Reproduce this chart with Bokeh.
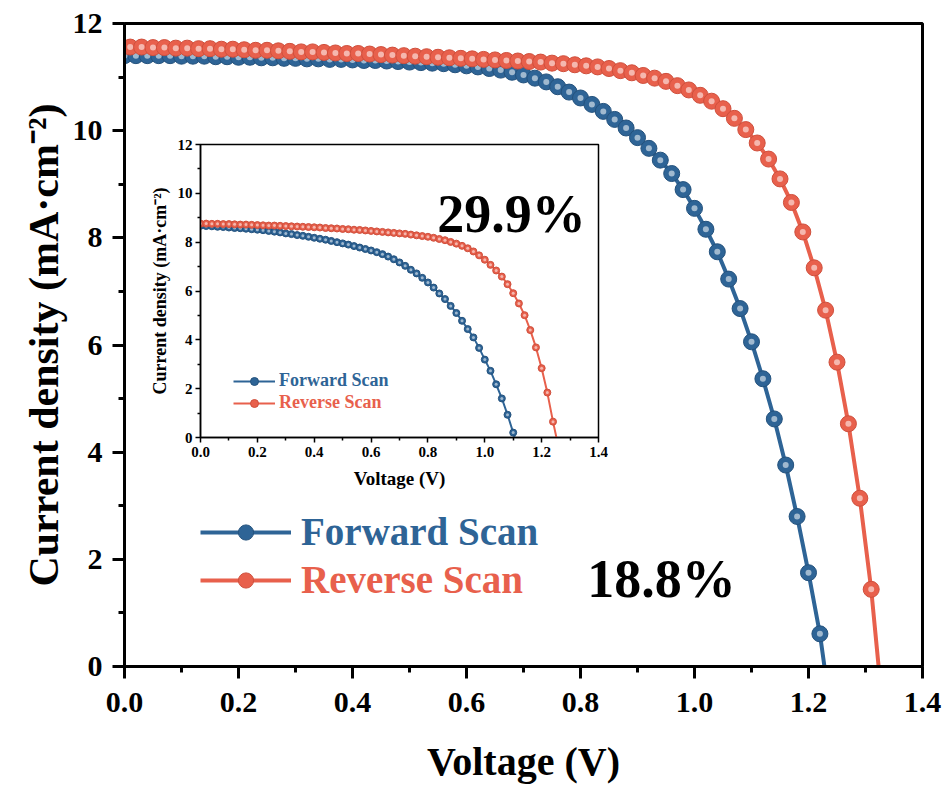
from bokeh.plotting import figure
from bokeh.models import Range1d, FixedTicker, PrintfTickFormatter, Legend, LegendItem, Label
from bokeh.embed import file_html
from bokeh.resources import INLINE

# ---------------- data ----------------
x_ticks = [0.0, 0.2, 0.4, 0.6, 0.8, 1.0, 1.2, 1.4]
x_minor = [0.1, 0.3, 0.5, 0.7, 0.9, 1.1, 1.3]
y_ticks = [0, 2, 4, 6, 8, 10, 12]
y_minor = [1, 3, 5, 7, 9, 11]

# main panel, forward scan
fwd_v = [0.00, 0.02, 0.04, 0.06, 0.08, 0.10, 0.12, 0.14, 0.16, 0.18,
         0.20, 0.22, 0.24, 0.26, 0.28, 0.30, 0.32, 0.34, 0.36, 0.38,
         0.40, 0.42, 0.44, 0.46, 0.48, 0.50, 0.52, 0.54, 0.56, 0.58,
         0.60, 0.62, 0.64, 0.66, 0.68, 0.70, 0.72, 0.74, 0.76, 0.78,
         0.80, 0.82, 0.84, 0.86, 0.88, 0.90, 0.92, 0.94, 0.96, 0.98,
         1.00, 1.02, 1.04, 1.06, 1.08, 1.10, 1.12, 1.14, 1.16, 1.18,
         1.20, 1.22]
fwd_j = [11.40, 11.40, 11.40, 11.40, 11.40, 11.39, 11.39, 11.39, 11.38, 11.38,
         11.37, 11.37, 11.36, 11.36, 11.35, 11.35, 11.34, 11.34, 11.33, 11.33,
         11.32, 11.31, 11.31, 11.30, 11.29, 11.28, 11.27, 11.26, 11.25, 11.23,
         11.21, 11.19, 11.16, 11.13, 11.09, 11.04, 10.98, 10.91, 10.82, 10.72,
         10.61, 10.49, 10.36, 10.21, 10.05, 9.87, 9.67, 9.45, 9.20, 8.90,
         8.55, 8.16, 7.74, 7.23, 6.68, 6.06, 5.37, 4.62, 3.76, 2.80,
         1.75, 0.61]
fwd_voc = 1.228

# main panel, reverse scan
rev_v = [0.01, 0.03, 0.05, 0.07, 0.09, 0.11, 0.13, 0.15, 0.17, 0.19,
         0.21, 0.23, 0.25, 0.27, 0.29, 0.31, 0.33, 0.35, 0.37, 0.39,
         0.41, 0.43, 0.45, 0.47, 0.49, 0.51, 0.53, 0.55, 0.57, 0.59,
         0.61, 0.63, 0.65, 0.67, 0.69, 0.71, 0.73, 0.75, 0.77, 0.79,
         0.81, 0.83, 0.85, 0.87, 0.89, 0.91, 0.93, 0.95, 0.97, 0.99,
         1.01, 1.03, 1.05, 1.07, 1.09, 1.11, 1.13, 1.15, 1.17, 1.19,
         1.21, 1.23, 1.25, 1.27, 1.29, 1.31]
rev_j = [11.56, 11.56, 11.55, 11.55, 11.54, 11.54, 11.53, 11.53, 11.52, 11.52,
         11.51, 11.50, 11.50, 11.49, 11.48, 11.47, 11.47, 11.46, 11.45, 11.44,
         11.44, 11.43, 11.42, 11.41, 11.40, 11.39, 11.38, 11.37, 11.36, 11.35,
         11.34, 11.33, 11.32, 11.31, 11.30, 11.29, 11.28, 11.26, 11.25, 11.23,
         11.21, 11.19, 11.16, 11.12, 11.08, 11.03, 10.98, 10.92, 10.84, 10.76,
         10.66, 10.55, 10.41, 10.23, 10.02, 9.77, 9.47, 9.10, 8.66, 8.11,
         7.44, 6.65, 5.68, 4.53, 3.14, 1.44]
rev_voc = 1.323

# inset, forward scan
in_fwd_v = [0.00, 0.02, 0.04, 0.06, 0.08, 0.10, 0.12, 0.14, 0.16, 0.18,
            0.20, 0.22, 0.24, 0.26, 0.28, 0.30, 0.32, 0.34, 0.36, 0.38,
            0.40, 0.42, 0.44, 0.46, 0.48, 0.50, 0.52, 0.54, 0.56, 0.58,
            0.60, 0.62, 0.64, 0.66, 0.68, 0.70, 0.72, 0.74, 0.76, 0.78,
            0.80, 0.82, 0.84, 0.86, 0.88, 0.90, 0.92, 0.94, 0.96, 0.98,
            1.00, 1.02, 1.04, 1.06, 1.08, 1.10]
in_fwd_j = [8.67, 8.66, 8.65, 8.63, 8.62, 8.60, 8.58, 8.57, 8.55, 8.53,
            8.51, 8.49, 8.46, 8.43, 8.40, 8.36, 8.33, 8.29, 8.26, 8.22,
            8.18, 8.14, 8.10, 8.05, 8.00, 7.95, 7.90, 7.84, 7.78, 7.72,
            7.66, 7.59, 7.51, 7.41, 7.30, 7.17, 7.03, 6.87, 6.72, 6.54,
            6.35, 6.14, 5.90, 5.67, 5.39, 5.10, 4.78, 4.44, 4.10, 3.67,
            3.19, 2.73, 2.18, 1.60, 0.93, 0.20]
in_fwd_voc = 1.105

# inset, reverse scan
in_rev_v = [0.00, 0.02, 0.04, 0.06, 0.08, 0.10, 0.12, 0.14, 0.16, 0.18,
            0.20, 0.22, 0.24, 0.26, 0.28, 0.30, 0.32, 0.34, 0.36, 0.38,
            0.40, 0.42, 0.44, 0.46, 0.48, 0.50, 0.52, 0.54, 0.56, 0.58,
            0.60, 0.62, 0.64, 0.66, 0.68, 0.70, 0.72, 0.74, 0.76, 0.78,
            0.80, 0.82, 0.84, 0.86, 0.88, 0.90, 0.92, 0.94, 0.96, 0.98,
            1.00, 1.02, 1.04, 1.06, 1.08, 1.10, 1.12, 1.14, 1.16, 1.18,
            1.20, 1.22, 1.24]
in_rev_j = [8.76, 8.76, 8.75, 8.75, 8.74, 8.74, 8.73, 8.72, 8.72, 8.71,
            8.70, 8.69, 8.68, 8.68, 8.67, 8.66, 8.65, 8.64, 8.63, 8.62,
            8.61, 8.60, 8.58, 8.57, 8.56, 8.54, 8.53, 8.51, 8.50, 8.48,
            8.46, 8.44, 8.42, 8.40, 8.38, 8.36, 8.34, 8.31, 8.28, 8.25,
            8.22, 8.18, 8.13, 8.08, 8.01, 7.94, 7.85, 7.75, 7.62, 7.46,
            7.28, 7.07, 6.84, 6.59, 6.28, 5.91, 5.49, 5.01, 4.40, 3.69,
            2.84, 1.84, 0.65]
in_rev_voc = 1.252

main_pce = "18.8%"
inset_pce = "29.9%"
series_names = ["Forward Scan", "Reverse Scan"]

# ---------------- styling ----------------
BLUE = "#2E6496"
RED = "#E8604C"
BLUE_DARK = "#24527D"
RED_DARK = "#CF4F3C"
FONT = "Liberation Serif"


def style_axes(fig, lw, tick_out, minor_out, tick_font, xlabel_font, ylabel_font,
               tick_standoff_x, tick_standoff_y, label_standoff_x, label_standoff_y):
    fig.xaxis.ticker = FixedTicker(ticks=x_ticks, minor_ticks=x_minor)
    fig.yaxis.ticker = FixedTicker(ticks=y_ticks, minor_ticks=y_minor)
    fig.xaxis.formatter = PrintfTickFormatter(format="%.1f")
    fig.yaxis.formatter = PrintfTickFormatter(format="%d")
    for ax in (fig.xaxis[0], fig.yaxis[0]):
        ax.axis_line_width = lw
        ax.axis_line_color = "black"
        ax.major_tick_line_width = lw
        ax.minor_tick_line_width = lw
        ax.major_tick_line_color = "black"
        ax.minor_tick_line_color = "black"
        ax.major_tick_in = 0
        ax.major_tick_out = tick_out
        ax.minor_tick_in = 0
        ax.minor_tick_out = minor_out
        ax.major_label_text_font = FONT
        ax.major_label_text_font_style = "bold"
        ax.major_label_text_font_size = tick_font
        ax.major_label_text_color = "black"
        ax.axis_label_text_font = FONT
        ax.axis_label_text_font_style = "bold"
        ax.axis_label_text_color = "black"
    fig.xaxis[0].axis_label_text_font_size = xlabel_font
    fig.yaxis[0].axis_label_text_font_size = ylabel_font
    fig.xaxis[0].major_label_standoff = tick_standoff_x
    fig.yaxis[0].major_label_standoff = tick_standoff_y
    fig.xaxis[0].axis_label_standoff = label_standoff_x
    fig.yaxis[0].axis_label_standoff = label_standoff_y
    fig.grid.visible = False
    fig.outline_line_color = "black"
    fig.outline_line_width = lw
    fig.outline_line_alpha = 1.0


def add_series(fig, v, j, voc, color, dark, lw, size, hl_size):
    line = fig.line(v + [voc], j + [0.0], line_color=color, line_width=lw)
    dots = fig.scatter(v, j, marker="circle", size=size, fill_color=color,
                       line_color=dark, line_width=1)
    fig.scatter(v, j, marker="circle", size=hl_size, fill_color="white",
                fill_alpha=0.55, line_color=None)
    return [line, dots]


def add_legend(fig, label, renderers, color, loc, font, gw, gh, standoff):
    leg = Legend(items=[LegendItem(label=label, renderers=renderers)],
                 location=loc, orientation="vertical", padding=0, margin=0,
                 spacing=0, border_line_color=None, background_fill_alpha=0,
                 glyph_width=gw, glyph_height=gh, label_standoff=standoff,
                 label_text_font=FONT, label_text_font_style="bold",
                 label_text_font_size=font, label_text_color=color,
                 label_text_baseline="middle")
    fig.add_layout(leg)


# ---------------- main figure ----------------
p = figure(width=946, height=789, x_range=Range1d(0, 1.4), y_range=Range1d(0, 12),
           output_backend="svg", toolbar_location=None,
           min_border_left=124, min_border_right=24, min_border_top=23, min_border_bottom=123,
           x_axis_label="Voltage (V)", y_axis_label="Current density (mA·cm⁻²)")
style_axes(p, 3, 12, 6, "30px", "40px", "42px", 14, 10, 24, 3)

r_fwd = add_series(p, fwd_v, fwd_j, fwd_voc, BLUE, BLUE_DARK, 4, 16, 6)
r_rev = add_series(p, rev_v, rev_j, rev_voc, RED, RED_DARK, 4, 16, 6)

add_legend(p, series_names[0], r_fwd, BLUE, (76, 112), "39px", 91, 38, 10)
add_legend(p, series_names[1], r_rev, RED, (76, 64), "39px", 91, 38, 10)

p.add_layout(Label(x=0.812, y=1.64, text=main_pce, text_font=FONT, text_font_style="bold",
                   text_font_size="54px", text_color="black", text_baseline="alphabetic"))

# ---------------- inset figure (overlaid on the main one) ----------------
inset = figure(width=462, height=365, x_range=Range1d(0, 1.4), y_range=Range1d(0, 12),
               output_backend="svg", toolbar_location=None,
               min_border_left=54, min_border_right=10, min_border_top=12, min_border_bottom=60,
               x_axis_label="Voltage (V)", y_axis_label="Current density (mA·cm⁻²)",
               background_fill_color=None, border_fill_color=None,
               styles={"position": "absolute", "left": "146px", "top": "132px"})
style_axes(inset, 1.5, 5, 3, "15px", "19px", "18px", 4, 3, 8, 5)

ri_fwd = add_series(inset, in_fwd_v, in_fwd_j, in_fwd_voc, BLUE, BLUE_DARK, 2, 7, 3)
ri_rev = add_series(inset, in_rev_v, in_rev_j, in_rev_voc, RED, RED_DARK, 2, 7, 3)

add_legend(inset, series_names[0], ri_fwd, BLUE, (33, 46), "18px", 42, 20, 4)
add_legend(inset, series_names[1], ri_rev, RED, (33, 24), "18px", 42, 20, 4)

inset.add_layout(Label(x=0.833, y=9.16, text=inset_pce, text_font=FONT, text_font_style="bold",
                       text_font_size="54px", text_color="black", text_baseline="alphabetic"))

open("out.html", "w").write(file_html([p, inset], INLINE))
